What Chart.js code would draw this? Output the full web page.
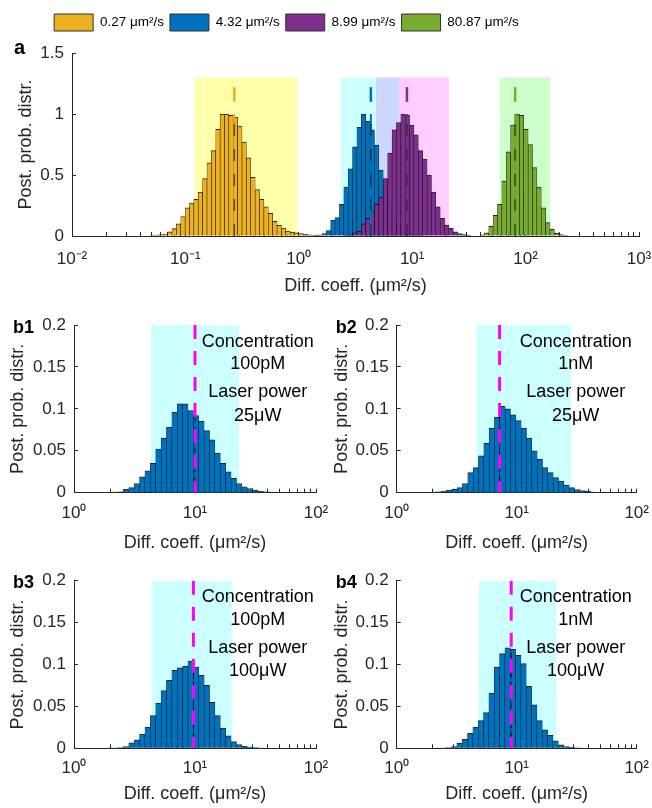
<!DOCTYPE html>
<html>
<head>
<meta charset="utf-8">
<title>Posterior diffusion coefficient histograms</title>
<script src="https://cdn.jsdelivr.net/npm/chart.js@4.4.1/dist/chart.umd.min.js"></script>
<style>
  html, body { margin: 0; padding: 0; background: #fff; }
  #figure { position: relative; width: 652px; height: 808px; overflow: hidden; }
  #figure canvas { position: absolute; }
</style>
</head>
<body>
<div id="figure">
  <canvas id="panelA" width="652" height="300" style="left:0;top:0"></canvas>
  <canvas id="panelB1" width="340" height="256" style="left:0;top:300px"></canvas>
  <canvas id="panelB2" width="330" height="256" style="left:322px;top:300px"></canvas>
  <canvas id="panelB3" width="340" height="252" style="left:0;top:556px"></canvas>
  <canvas id="panelB4" width="330" height="252" style="left:322px;top:556px"></canvas>
</div>
<script>
const AXIS = '#262626';
const EDGE = 'rgba(0, 0, 0, 0.85)';
const FONT = '"Liberation Sans", Arial, Helvetica, sans-serif';

// ---- panel a: normalised posteriors, log-spaced bins ----
const legendLabels = ['0.27 μm²/s', '4.32 μm²/s', '8.99 μm²/s', '80.87 μm²/s'];
const aMeans = [0.27, 4.32, 8.99, 80.87];
const aBinStart = [-1.292, 0.146, 0.417, 1.617];  // log10 of first bin centre
const aBinWidth = 0.0386;                          // log10 units
const aYellow = [0.008, 0.005, 0.012, 0.016, 0.035, 0.06, 0.10, 0.16, 0.23, 0.27, 0.30, 0.36, 0.47, 0.60, 0.70, 0.875, 1.0, 1.0, 0.99, 0.975, 0.90, 0.77, 0.64, 0.48, 0.38, 0.30, 0.24, 0.185, 0.12, 0.087, 0.065, 0.04, 0.033, 0.027, 0.02, 0.013, 0.01, 0.008, 0.006, 0.004];
const aBlue = [0.005, 0.008, 0.02, 0.045, 0.13, 0.15, 0.26, 0.40, 0.55, 0.73, 0.89, 1.0, 0.94, 0.87, 0.745, 0.54, 0.40, 0.27, 0.17, 0.10, 0.06, 0.035, 0.02, 0.01, 0.005];
const aPurple = [0.005, 0.01, 0.027, 0.04, 0.10, 0.145, 0.20, 0.26, 0.32, 0.47, 0.68, 0.87, 0.93, 1.0, 0.99, 0.91, 0.83, 0.70, 0.63, 0.50, 0.36, 0.24, 0.145, 0.09, 0.062, 0.035, 0.02, 0.011, 0.005];
const aGreen = [0.01, 0.027, 0.08, 0.17, 0.26, 0.45, 0.69, 0.91, 1.0, 0.99, 0.875, 0.75, 0.56, 0.40, 0.23, 0.11, 0.054, 0.022, 0.011, 0.005];
const aIntervalLow = [0.12, 2.36, 4.77, 58.6];
const aIntervalHigh = [0.98, 7.65, 21.1, 164];
const aIntervalTop = 1.3;
const aMarkLow = 1.1;
const aMarkHigh = 1.22;
const aXTickExp = [-2, -1, 0, 1, 2, 3];
const aXTickLabels = ['10⁻²', '10⁻¹', '10⁰', '10¹', '10²', '10³'];
const aYTicks = [0, 0.5, 1, 1.5];
const aYTickLabels = ['0', '0.5', '1', '1.5'];

// ---- panels b1-b4: posterior for different conditions ----
const bPanelNames = ['b1', 'b2', 'b3', 'b4'];
const bConcentration = ['100pM', '1nM', '100pM', '1nM'];
const bLaserPower = ['25μW', '25μW', '100μW', '100μW'];
const bBinStart = [0.297, 0.303, 0.297, 0.3455];
const bBinWidth = 0.0445;
const b1Hist = [0.0005, 0.0008, 0.001, 0.004, 0.006, 0.011, 0.019, 0.026, 0.035, 0.052, 0.065, 0.078, 0.096, 0.106, 0.106, 0.098, 0.092, 0.085, 0.074, 0.063, 0.047, 0.035, 0.025, 0.017, 0.011, 0.007, 0.005, 0.003, 0.0016, 0.001, 0.0006, 0.0003];
const b2Hist = [0.0004, 0.001, 0.002, 0.003, 0.004, 0.006, 0.011, 0.024, 0.03, 0.044, 0.059, 0.077, 0.09, 0.103, 0.1, 0.093, 0.086, 0.077, 0.065, 0.05, 0.04, 0.03, 0.024, 0.018, 0.014, 0.009, 0.006, 0.0036, 0.0024, 0.0016, 0.0008, 0.0004];
const b3Hist = [0.0003, 0.0004, 0.0008, 0.002, 0.0066, 0.01, 0.017, 0.025, 0.039, 0.054, 0.069, 0.081, 0.093, 0.096, 0.098, 0.104, 0.097, 0.087, 0.075, 0.055, 0.039, 0.024, 0.015, 0.008, 0.0044, 0.0024, 0.0016, 0.0008, 0.0004];
const b4Hist = [0.0003, 0.0004, 0.0008, 0.002, 0.006, 0.011, 0.018, 0.025, 0.033, 0.0425, 0.066, 0.097, 0.113, 0.12, 0.118, 0.111, 0.101, 0.074, 0.052, 0.033, 0.022, 0.0155, 0.009, 0.004, 0.002, 0.0012, 0.0006];
const bTrueValue = [10.0, 7.2, 9.7, 9.0];
const bIntervalLow = [4.33, 4.6, 4.39, 4.8];
const bIntervalHigh = [23.2, 28.4, 20.3, 21.5];
const bXTickExp = [0, 1, 2];
const bXTickLabels = ['10⁰', '10¹', '10²'];
const bYTicks = [0, 0.05, 0.1, 0.15, 0.2];
const bYTickLabels = ['0', '0.05', '0.1', '0.15', '0.2'];

const seriesColors = ['#EDB120', '#0072BD', '#7E2F8E', '#77AC30'];
const shadeColors = ['rgba(255,255,0,0.33)', 'rgba(0,255,255,0.2)', 'rgba(255,0,255,0.2)', 'rgba(0,255,0,0.2)'];

function histPoints(start, width, values) {
    return values.map((v, i) => ({ x: Math.pow(10, start + i * width), y: v }));
}

// 1..9 x 10^n tick marks, labelled only on the decades
function logTicks(exps, labels) {
    const ticks = [];
    exps.forEach((e, i) => {
        for (let k = 1; k <= 9; k++) {
            if (i === exps.length - 1 && k > 1) break;
            ticks.push({ value: k * Math.pow(10, e), lbl: k === 1 ? labels[i] : '' });
        }
    });
    return ticks;
}

function logAxis(exps, labels, height, tickPad, titlePad) {
    return {
        type: 'logarithmic',
        min: Math.pow(10, exps[0]),
        max: Math.pow(10, exps[exps.length - 1]),
        offset: false,
        afterBuildTicks: s => { s.ticks = logTicks(exps, labels); },
        afterFit: s => { s.height = height; s.paddingLeft = 0; s.paddingRight = 0; },
        ticks: {
            autoSkip: false, maxRotation: 0, padding: tickPad, color: AXIS,
            font: { family: FONT, size: 17 },
            callback: (v, i, t) => t[i].lbl
        },
        grid: { drawOnChartArea: false, tickLength: -4, color: AXIS, offset: false },
        border: { color: AXIS },
        title: {
            display: true, text: 'Diff. coeff. (μm²/s)', color: AXIS,
            font: { family: FONT, size: 18 }, padding: { top: 0, bottom: titlePad }
        }
    };
}

function hiddenLogAxis(exps) {
    return { type: 'logarithmic', display: false, offset: false, min: Math.pow(10, exps[0]), max: Math.pow(10, exps[exps.length - 1]) };
}

function linAxis(values, labels, width, titlePad) {
    return {
        min: values[0],
        max: values[values.length - 1],
        stacked: false,
        afterBuildTicks: s => { s.ticks = values.map(v => ({ value: v })); },
        afterFit: s => { s.width = width; s.paddingTop = 0; s.paddingBottom = 0; },
        ticks: { padding: 12, color: AXIS, font: { family: FONT, size: 17 }, callback: (v, i) => labels[i] },
        grid: { drawOnChartArea: false, tickLength: -4, color: AXIS },
        border: { color: AXIS },
        title: {
            display: true, text: 'Post. prob. distr.', color: AXIS,
            font: { family: FONT, size: 18 }, padding: { top: titlePad, bottom: 0 }
        }
    };
}

// each bar is one log-spaced bin: its width is the bin width measured on the axis
function barSet(data, color, axisId, order, binWidth) {
    return {
        type: 'bar', data, xAxisID: axisId, order, grouped: false,
        backgroundColor: color, borderColor: EDGE,
        borderWidth: { top: 1, left: 0.6, right: 0.6, bottom: 0 },
        barThickness: c => {
            const s = c.chart.scales[axisId];
            return Math.abs(s.getPixelForValue(Math.pow(10, binWidth)) - s.getPixelForValue(1));
        },
        categoryPercentage: 1, barPercentage: 1
    };
}

function shadeSet(lo, hi, top, color) {
    return {
        type: 'line', data: [{ x: lo, y: top }, { x: hi, y: top }], xAxisID: 'x',
        backgroundColor: color, borderColor: 'rgba(0,0,0,0)', borderWidth: 0,
        pointRadius: 0, fill: 'origin', order: 20
    };
}

function vline(x, y0, y1, color, width, dash, order) {
    return {
        type: 'line', data: [{ x, y: y0 }, { x, y: y1 }], xAxisID: 'x',
        borderColor: color, borderWidth: width, borderDash: dash,
        pointRadius: 0, fill: false, order
    };
}

// panel letters and the condition text in panels b
const panelText = {
    id: 'panelText',
    afterDraw(chart, args, opts) {
        const { ctx, chartArea, scales } = chart;
        ctx.save();
        ctx.fillStyle = '#000';
        ctx.textAlign = 'left';
        ctx.textBaseline = 'alphabetic';
        ctx.font = `bold ${opts.labelSize}px ${FONT}`;
        ctx.fillText(opts.label, chartArea.left + opts.labelDx, chartArea.top + opts.labelDy);
        if (opts.lines) {
            ctx.font = `18px ${FONT}`;
            ctx.textAlign = 'center';
            ctx.textBaseline = 'middle';
            const x = scales.x.getPixelForValue(opts.textX);
            opts.lines.forEach((t, i) => ctx.fillText(t, x, scales.y.getPixelForValue(opts.textY[i])));
        }
        ctx.restore();
    }
};

// moves the centred legend row sideways
const legendShift = {
    id: 'legendShift',
    afterLayout(chart, args, opts) {
        if (chart.legend && opts.dx) {
            chart.legend.left += opts.dx;
            chart.legend.right += opts.dx;
        }
    }
};

// ---- panel a ----
const aSeries = [aYellow, aBlue, aPurple, aGreen];
const aBarAxes = ['x', 'x1', 'x2', 'x3'];
const aBarOrder = [6, 6, 5, 6];
const aDatasets = aSeries.map((vals, i) =>
    barSet(histPoints(aBinStart[i], aBinWidth, vals), seriesColors[i], aBarAxes[i], aBarOrder[i], aBinWidth));
aMeans.forEach((m, i) => {
    aDatasets.push(shadeSet(aIntervalLow[i], aIntervalHigh[i], aIntervalTop, shadeColors[i]));
    aDatasets.push(vline(m, 0, 1, seriesColors[i], 2, [], 3));
    aDatasets.push(vline(m, 0, 1, 'rgba(40,40,40,0.75)', 1.5, [12, 13], 2));
    aDatasets.push(vline(m, aMarkLow, aMarkHigh, seriesColors[i], 2.5, [], 2));
});

new Chart(document.getElementById('panelA'), {
    type: 'bar',
    data: { datasets: aDatasets },
    options: {
        responsive: false,
        animation: false,
        events: [],
        layout: { padding: { top: 8, right: 13, left: 0, bottom: 0 } },
        scales: {
            x: logAxis(aXTickExp, aXTickLabels, 64, 17, 3),
            x1: hiddenLogAxis(aXTickExp),
            x2: hiddenLogAxis(aXTickExp),
            x3: hiddenLogAxis(aXTickExp),
            y: linAxis(aYTicks, aYTickLabels, 72, 15)
        },
        plugins: {
            legend: {
                position: 'top',
                weight: 3000,
                labels: {
                    boxWidth: 39, boxHeight: 17, padding: 6, color: '#000',
                    font: { family: FONT, size: 13.5 },
                    generateLabels: () => legendLabels.map((text, i) => ({
                        text, fillStyle: seriesColors[i], strokeStyle: '#333',
                        lineWidth: 1, hidden: false, datasetIndex: i
                    }))
                }
            },
            // empty title used as a spacer under the legend
            title: { display: true, text: '', font: { size: 10 }, padding: { top: 0, bottom: 0 } },
            tooltip: { enabled: false },
            legendShift: { dx: -33 },
            panelText: { label: 'a', labelSize: 20, labelDx: -58, labelDy: 1 }
        }
    },
    plugins: [legendShift, panelText]
});

// ---- panels b ----
const bHists = [b1Hist, b2Hist, b3Hist, b4Hist];
const bTextX = [33, 31, 33, 31];
const bGeometry = [
    { id: 'panelB1', top: 25, right: 24, xHeight: 63.3, xTitlePad: 1.7, yWidth: 74, yTitlePad: 7.5 },
    { id: 'panelB2', top: 25, right: 15.3, xHeight: 63.3, xTitlePad: 1.7, yWidth: 74.7, yTitlePad: 8.9 },
    { id: 'panelB3', top: 24.7, right: 24, xHeight: 59.7, xTitlePad: 3.2, yWidth: 74, yTitlePad: 7.5 },
    { id: 'panelB4', top: 24.7, right: 15.3, xHeight: 59.7, xTitlePad: 3.2, yWidth: 74.7, yTitlePad: 8.9 }
];

bHists.forEach((hist, i) => {
    const g = bGeometry[i];
    const peak = Math.max(...hist);
    new Chart(document.getElementById(g.id), {
        type: 'bar',
        data: {
            datasets: [
                barSet(histPoints(bBinStart[i], bBinWidth, hist), seriesColors[1], 'x', 5, bBinWidth),
                shadeSet(bIntervalLow[i], bIntervalHigh[i], 0.2, shadeColors[1]),
                vline(bTrueValue[i], 0, peak, 'rgba(0,0,0,0.75)', 1, [6, 4], 3),
                vline(bTrueValue[i], 0.2, 0, '#FF00FF', 3, [14, 12], 2)
            ]
        },
        options: {
            responsive: false,
            animation: false,
            events: [],
            layout: { padding: { top: g.top, right: g.right, left: 0, bottom: 0 } },
            scales: {
                x: logAxis(bXTickExp, bXTickLabels, g.xHeight, 14, g.xTitlePad),
                y: linAxis(bYTicks, bYTickLabels, g.yWidth, g.yTitlePad)
            },
            plugins: {
                legend: { display: false },
                title: { display: false },
                tooltip: { enabled: false },
                panelText: {
                    label: bPanelNames[i], labelSize: 18, labelDx: -61, labelDy: i < 2 ? 8 : 7,
                    lines: ['Concentration', bConcentration[i], 'Laser power', bLaserPower[i]],
                    textX: bTextX[i], textY: [0.18, 0.153, 0.12, 0.092]
                }
            }
        },
        plugins: [panelText]
    });
});
</script>
</body>
</html>
